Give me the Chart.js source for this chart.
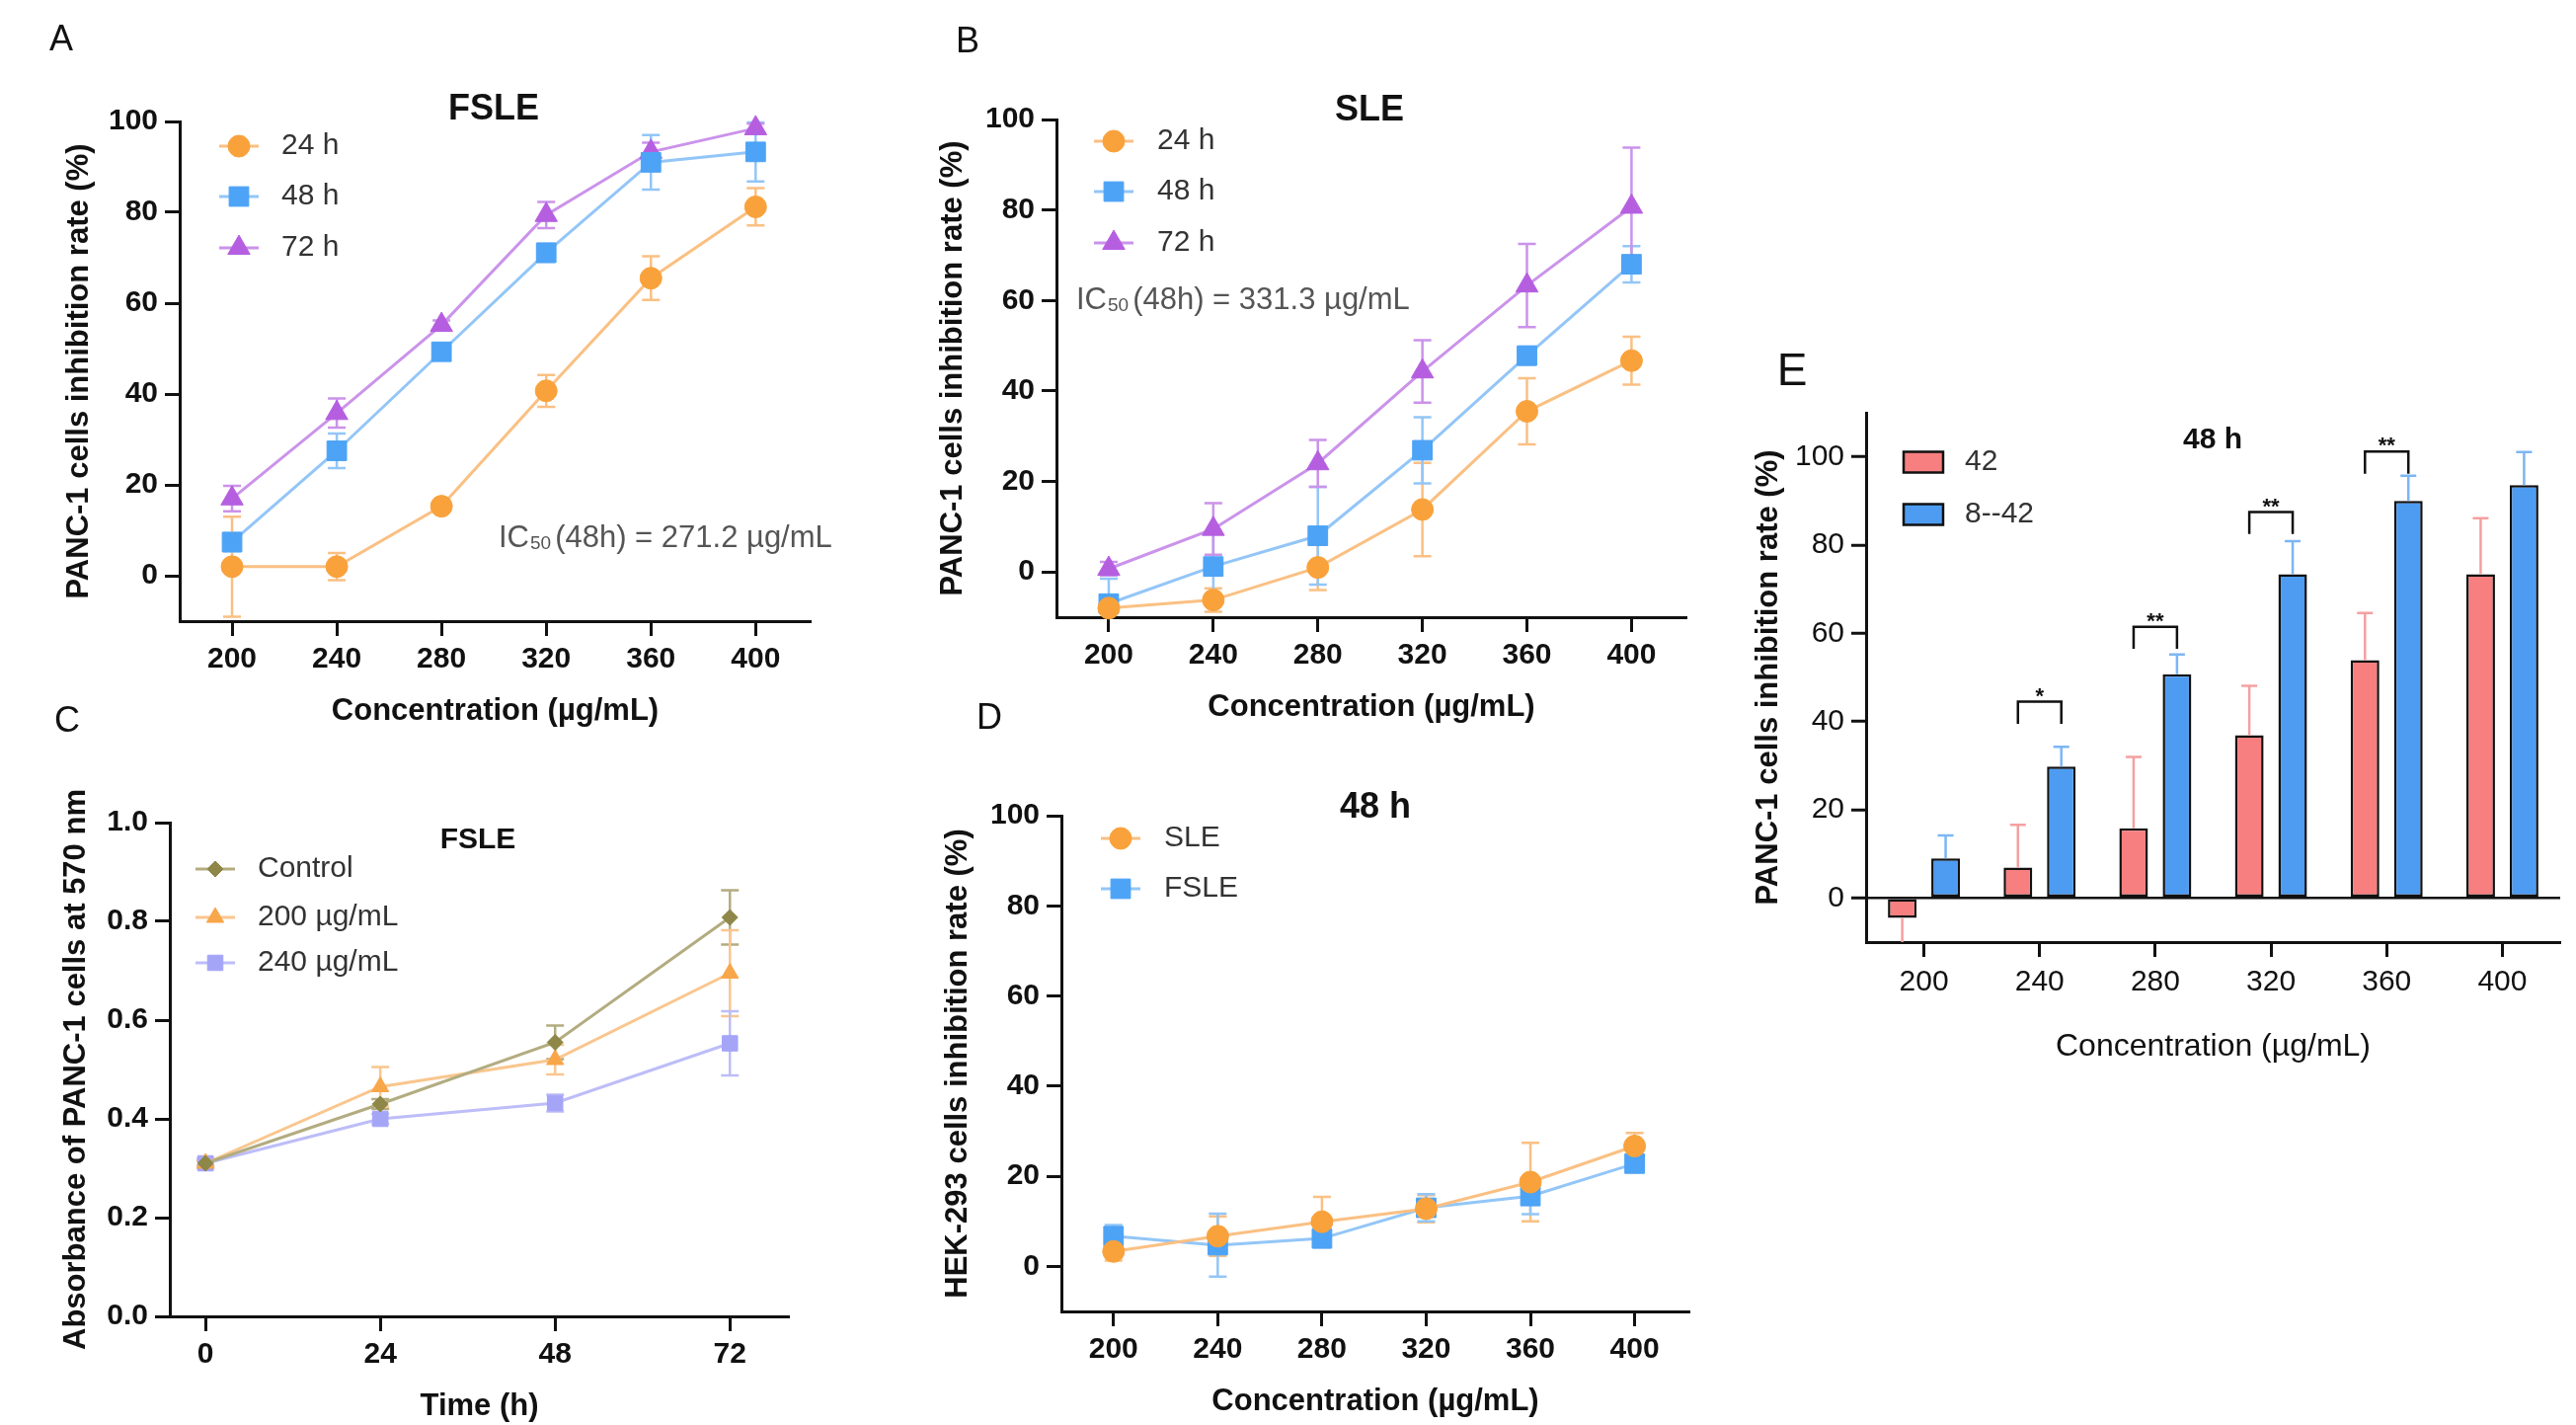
<!DOCTYPE html>
<html><head><meta charset="utf-8">
<script src="https://cdn.jsdelivr.net/npm/chart.js@4.4.1/dist/chart.umd.min.js"></script>
<style>
html,body{margin:0;padding:0;background:#fff;}
#wrap{position:relative;width:2609px;height:1443px;overflow:hidden;background:#fff;}
canvas{position:absolute;}
</style></head><body><div id="wrap">
<canvas id="cA"></canvas><canvas id="cB"></canvas><canvas id="cC"></canvas><canvas id="cD"></canvas><canvas id="cE"></canvas>
</div>
<script>
const FONT = '"Liberation Sans", Arial, Helvetica, sans-serif';

// ---------- data ----------
const concX = [200, 240, 280, 320, 360, 400];
const concTicks = [200, 240, 280, 320, 360, 400];
const concTickLabels = ['200', '240', '280', '320', '360', '400'];
const pctTicks = [0, 20, 40, 60, 80, 100];
const pctTickLabels = ['0', '20', '40', '60', '80', '100'];

// A: FSLE, PANC-1 inhibition (%)
const a24 = [2.0, 2.0, 15.3, 40.7, 65.5, 81.2];
const a24Err = [11.0, 3.0, 1.0, 3.5, 4.8, 4.1];
const a48 = [7.4, 27.5, 49.3, 71.1, 91.0, 93.3];
const a48Err = [2.0, 3.8, 1.5, 2.0, 6.0, 6.5];
const a72 = [17.0, 35.8, 55.2, 79.4, 93.3, 98.5];
const a72Err = [2.8, 3.2, 1.0, 2.9, 2.0, 1.0];

// B: SLE, PANC-1 inhibition (%)
const b24 = [-8.0, -6.2, 1.0, 13.8, 35.5, 46.7];
const b24Err = [1.0, 2.6, 5.0, 10.3, 7.3, 5.3];
const b48 = [-7.0, 1.2, 8.0, 26.9, 47.8, 68.0];
const b48Err = [5.5, 7.5, 10.8, 7.3, 2.0, 4.0];
const b72 = [0.7, 9.5, 24.0, 44.3, 63.3, 80.7];
const b72Err = [1.5, 5.7, 5.2, 6.9, 9.2, 13.1];

// C: FSLE, absorbance at 570 nm vs time
const timeX = [0, 24, 48, 72];
const timeTicks = [0, 24, 48, 72];
const timeTickLabels = ['0', '24', '48', '72'];
const absTicks = [0, 0.2, 0.4, 0.6, 0.8, 1.0];
const absTickLabels = ['0.0', '0.2', '0.4', '0.6', '0.8', '1.0'];
const cCtrl = [0.31, 0.43, 0.555, 0.808];
const cCtrlErr = [0.005, 0.01, 0.034, 0.055];
const c200 = [0.31, 0.465, 0.52, 0.695];
const c200Err = [0.005, 0.04, 0.03, 0.087];
const c240 = [0.31, 0.40, 0.432, 0.553];
const c240Err = [0.01, 0.01, 0.017, 0.065];

// D: HEK-293 inhibition (%) 48 h
const dSLE = [3.3, 6.7, 9.9, 12.8, 18.7, 26.7];
const dSLEErr = [2.0, 4.4, 5.5, 3.0, 8.7, 2.9];
const dFSLE = [6.7, 4.7, 6.2, 13.0, 15.6, 22.8];
const dFSLEErr = [2.5, 7.0, 2.0, 3.0, 4.0, 1.5];

// E: bars 48 h
const catsE = ['200', '240', '280', '320', '360', '400'];
const e42 = [-4.5, 6.9, 15.8, 36.9, 53.9, 73.4];
const e42Err = [8.0, 9.7, 16.2, 11.2, 10.7, 12.7];
const e842 = [9.0, 29.8, 50.7, 73.4, 90.0, 93.6];
const e842Err = [5.2, 4.5, 4.5, 7.5, 5.7, 7.5];
const sigIdx = [1, 2, 3, 4];
const sigTop = [44.5, 61.5, 87.5, 101.2];
const sigLabels = ['*', '**', '**', '**'];

// ---------- colours ----------
const C = {
  orM: '#F9A23C', orL: '#FAC083',
  blM: '#4DA3F5', blL: '#93C6F7',
  puM: '#B55FE0', puL: '#CB93EA',
  olM: '#8E8748', olL: '#B3AC80',
  o2M: '#F8A64A', o2L: '#F9C68E',
  lvM: '#A5A5F8', lvL: '#BDBDF8',
  eRed: '#F77F7F', eBlue: '#4D9CF2', eRedL: '#F5A0A0', eBlueL: '#7CB6F4'
};

Chart.defaults.font.family = FONT;
Chart.defaults.color = '#111';

// ---------- plugins ----------
function drawErr(chart, behind) {
  const ctx = chart.ctx, ys = chart.scales.y, a = chart.chartArea;
  chart.data.datasets.forEach((ds, i) => {
    if (!ds.errors || (!!ds.errBehind) !== behind) return;
    const meta = chart.getDatasetMeta(i);
    ctx.save();
    ctx.beginPath();
    ctx.rect(a.left - 30, a.top - 60, a.right - a.left + 60, a.bottom - a.top + 60);
    ctx.clip();
    ctx.strokeStyle = ds.errColor;
    ctx.lineWidth = ds.errWidth || 2.5;
    const hw = ds.capHalf || 8;
    meta.data.forEach((el, j) => {
      const raw = ds.data[j];
      const val = (raw !== null && typeof raw === 'object') ? raw.y : raw;
      const e = ds.errors[j];
      const x = el.x;
      ctx.beginPath();
      if (ds.errMode === 'away') {
        const end = ys.getPixelForValue(val + (val < 0 ? -e : e));
        const st = ys.getPixelForValue(val);
        ctx.moveTo(x, st); ctx.lineTo(x, end);
        ctx.moveTo(x - hw, end); ctx.lineTo(x + hw, end);
      } else {
        const p1 = ys.getPixelForValue(val - e), p2 = ys.getPixelForValue(val + e);
        ctx.moveTo(x, p1); ctx.lineTo(x, p2);
        ctx.moveTo(x - hw, p1); ctx.lineTo(x + hw, p1);
        ctx.moveTo(x - hw, p2); ctx.lineTo(x + hw, p2);
      }
      ctx.stroke();
    });
    ctx.restore();
  });
}
const errorBars = {
  id: 'errorBars',
  beforeDatasetsDraw(chart) { drawErr(chart, true); },
  afterDatasetsDraw(chart) { drawErr(chart, false); }
};

const DECO = {};
const decoPlugin = {
  id: 'deco',
  afterDraw(chart) {
    const o = DECO[chart.canvas.id];
    if (!o) return;
    const ctx = chart.ctx;
    ctx.save();
    ctx.translate(-o.ox, -o.oy);
    // panel letter
    ctx.fillStyle = '#111';
    ctx.textAlign = 'center'; ctx.textBaseline = 'middle';
    ctx.font = `${o.letter.size}px ${FONT}`;
    ctx.fillText(o.letter.text, o.letter.x, o.letter.y);
    // title
    ctx.font = `bold ${o.title.size}px ${FONT}`;
    ctx.fillText(o.title.text, o.title.x, o.title.y);
    // legend
    o.legend.forEach(it => {
      if (it.kind === 'line') {
        ctx.strokeStyle = it.lineColor; ctx.lineWidth = 3;
        ctx.beginPath(); ctx.moveTo(it.x - 20, it.y); ctx.lineTo(it.x + 20, it.y); ctx.stroke();
        ctx.fillStyle = it.color; ctx.strokeStyle = it.color; ctx.lineWidth = 1;
        Chart.helpers.drawPoint(ctx, {pointStyle: it.style, radius: it.r, rotation: 0, borderWidth: 1}, it.x, it.y);
      } else {
        ctx.fillStyle = it.color;
        ctx.fillRect(it.x1, it.y - it.h / 2, it.x2 - it.x1, it.h);
        ctx.strokeStyle = '#111'; ctx.lineWidth = 2.5;
        ctx.strokeRect(it.x1, it.y - it.h / 2, it.x2 - it.x1, it.h);
      }
      ctx.fillStyle = '#333';
      ctx.font = `30px ${FONT}`;
      ctx.textAlign = 'left'; ctx.textBaseline = 'middle';
      ctx.fillText(it.text, it.tx, it.y);
    });
    // IC50 annotation
    if (o.ic50) {
      const t = o.ic50;
      ctx.fillStyle = '#555';
      ctx.textAlign = 'left'; ctx.textBaseline = 'alphabetic';
      const base = t.y + 11;
      let x = t.x;
      ctx.font = `31px ${FONT}`;
      ctx.fillText('IC', x, base); x += ctx.measureText('IC').width + 1;
      ctx.font = `19px ${FONT}`;
      ctx.fillText('50', x, base + 2); x += ctx.measureText('50').width + 4;
      ctx.font = `31px ${FONT}`;
      ctx.fillText(t.rest, x, base);
    }
    // significance brackets
    if (o.sig) {
      const m0 = chart.getDatasetMeta(0), m1 = chart.getDatasetMeta(1), ys = chart.scales.y;
      ctx.translate(o.ox, o.oy);
      ctx.strokeStyle = '#111'; ctx.lineWidth = 2.5; ctx.fillStyle = '#111';
      sigIdx.forEach((idx, k) => {
        const x1 = m0.data[idx].x, x2 = m1.data[idx].x;
        const yt = ys.getPixelForValue(sigTop[k]);
        const yl = ys.getPixelForValue(sigTop[k] - 5);
        ctx.beginPath();
        ctx.moveTo(x1, yl); ctx.lineTo(x1, yt); ctx.lineTo(x2, yt); ctx.lineTo(x2, yl);
        ctx.stroke();
        ctx.font = `bold 22px ${FONT}`;
        ctx.textAlign = 'center'; ctx.textBaseline = 'alphabetic';
        ctx.fillText(sigLabels[k], (x1 + x2) / 2, yt + 1);
      });
    }
    ctx.restore();
  }
};

// ---------- helpers ----------
function frame(rect, area, yTitleX, xTitleY, ySize, xSize) {
  const lhY = ySize * 1.2, lhX = xSize * 1.2;
  const padLeft = yTitleX - lhY / 2 - rect.x;
  const yW = area.L - rect.x - padLeft;
  const xH = xTitleY + lhX / 2 - area.B;
  return {
    padding: {left: padLeft, top: area.T - rect.y, right: rect.x + rect.w - area.R, bottom: rect.y + rect.h - area.B - xH},
    yW, xH
  };
}
function setupCanvas(id, rect) {
  const cv = document.getElementById(id);
  cv.width = rect.w; cv.height = rect.h;
  cv.style.left = rect.x + 'px'; cv.style.top = rect.y + 'px';
  cv.style.width = rect.w + 'px'; cv.style.height = rect.h + 'px';
  return cv;
}
function linScale(axis, min, max, ticks, labels, fitSize, titleText, titleFont, tickFont, tickPad) {
  return {
    type: 'linear', min, max, bounds: 'data',
    afterBuildTicks: s => { s.ticks = ticks.map(v => ({value: v})); },
    afterFit: s => { if (axis === 'x') s.height = fitSize; else s.width = fitSize; },
    ticks: {autoSkip: false, padding: tickPad, color: '#111', font: tickFont, maxRotation: 0, callback: (v, i) => labels[i]},
    grid: {drawOnChartArea: false, drawTicks: true, tickLength: 15, tickWidth: 3, tickColor: '#111'},
    border: {display: true, color: '#111', width: 3},
    title: {display: true, text: titleText, color: '#111', font: titleFont, padding: 0}
  };
}
function lineDs(label, xs, ys, errs, marker, line, style, r) {
  return {
    label, data: xs.map((x, i) => ({x, y: ys[i]})),
    borderColor: line, backgroundColor: marker, borderWidth: 3, tension: 0,
    pointStyle: style, pointRadius: r, pointBackgroundColor: marker, pointBorderColor: marker, pointBorderWidth: 1,
    clip: false, errors: errs, errColor: line, errBehind: true, errWidth: 2.5, capHalf: 9
  };
}
const tickBold = {size: 30, weight: 'bold'};
const titleBold = {size: 31, weight: 'bold'};

function lineChart(id, rect, area, yTitleX, xTitleY, xMin, xMax, xTicks, xLabels, yMin, yMax, yTicks, yLabels, xTitle, yTitle, datasets) {
  const f = frame(rect, area, yTitleX, xTitleY, 31, 31);
  const cv = setupCanvas(id, rect);
  return new Chart(cv, {
    type: 'line',
    data: {datasets},
    options: {
      responsive: false, animation: false, devicePixelRatio: 1,
      layout: {padding: f.padding},
      plugins: {legend: {display: false}, tooltip: {enabled: false}, title: {display: false}},
      scales: {
        x: linScale('x', xMin, xMax, xTicks, xLabels, f.xH, xTitle, titleBold, tickBold, 6),
        y: linScale('y', yMin, yMax, yTicks, yLabels, f.yW, yTitle, titleBold, tickBold, 7)
      }
    },
    plugins: [errorBars, decoPlugin]
  });
}

const ML = 'Concentration (\u00b5g/mL)';

// ---------- Panel A ----------
const rA = {x: 0, y: 0, w: 900, h: 760};
DECO.cA = {ox: rA.x, oy: rA.y,
  letter: {text: 'A', x: 62, y: 41, size: 36},
  title: {text: 'FSLE', x: 500, y: 111, size: 36},
  legend: [
    {kind: 'line', x: 242, y: 148, tx: 285, text: '24 h', color: C.orM, lineColor: C.orL, style: 'circle', r: 11},
    {kind: 'line', x: 242, y: 199, tx: 285, text: '48 h', color: C.blM, lineColor: C.blL, style: 'rect', r: 14},
    {kind: 'line', x: 242, y: 251, tx: 285, text: '72 h', color: C.puM, lineColor: C.puL, style: 'triangle', r: 13}
  ],
  ic50: {x: 505, y: 543, rest: '(48h) = 271.2 \u00b5g/mL'}
};
lineChart('cA', rA, {L: 182, T: 123, R: 821, B: 629}, 80, 720, 180, 421, concTicks, concTickLabels, -10, 100, pctTicks, pctTickLabels,
  ML, 'PANC-1 cells inhibition rate (%)', [
    lineDs('24 h', concX, a24, a24Err, C.orM, C.orL, 'circle', 11),
    lineDs('48 h', concX, a48, a48Err, C.blM, C.blL, 'rect', 14),
    lineDs('72 h', concX, a72, a72Err, C.puM, C.puL, 'triangle', 13)
  ]);

// ---------- Panel B ----------
const rB = {x: 900, y: 0, w: 860, h: 760};
DECO.cB = {ox: rB.x, oy: rB.y,
  letter: {text: 'B', x: 980, y: 43, size: 36},
  title: {text: 'SLE', x: 1387, y: 112, size: 36},
  legend: [
    {kind: 'line', x: 1128, y: 143, tx: 1172, text: '24 h', color: C.orM, lineColor: C.orL, style: 'circle', r: 11},
    {kind: 'line', x: 1128, y: 194, tx: 1172, text: '48 h', color: C.blM, lineColor: C.blL, style: 'rect', r: 14},
    {kind: 'line', x: 1128, y: 246, tx: 1172, text: '72 h', color: C.puM, lineColor: C.puL, style: 'triangle', r: 13}
  ],
  ic50: {x: 1090, y: 302, rest: '(48h) = 331.3 \u00b5g/mL'}
};
lineChart('cB', rB, {L: 1070, T: 121, R: 1708, B: 625}, 965, 716, 180, 421, concTicks, concTickLabels, -10, 100, pctTicks, pctTickLabels,
  ML, 'PANC-1 cells inhibition rate (%)', [
    lineDs('24 h', concX, b24, b24Err, C.orM, C.orL, 'circle', 11),
    lineDs('48 h', concX, b48, b48Err, C.blM, C.blL, 'rect', 14),
    lineDs('72 h', concX, b72, b72Err, C.puM, C.puL, 'triangle', 13)
  ]);

// ---------- Panel C ----------
const rC = {x: 0, y: 700, w: 900, h: 743};
DECO.cC = {ox: rC.x, oy: rC.y,
  letter: {text: 'C', x: 68, y: 731, size: 36},
  title: {text: 'FSLE', x: 484, y: 851, size: 30},
  legend: [
    {kind: 'line', x: 218, y: 880, tx: 261, text: 'Control', color: C.olM, lineColor: C.olL, style: 'rectRot', r: 8},
    {kind: 'line', x: 218, y: 929, tx: 261, text: '200 \u00b5g/mL', color: C.o2M, lineColor: C.o2L, style: 'triangle', r: 10},
    {kind: 'line', x: 218, y: 975, tx: 261, text: '240 \u00b5g/mL', color: C.lvM, lineColor: C.lvL, style: 'rect', r: 11}
  ]
};
lineChart('cC', rC, {L: 172, T: 833, R: 799, B: 1333}, 77, 1424, -4.9, 80.1, timeTicks, timeTickLabels, 0, 1.0, absTicks, absTickLabels,
  'Time (h)', 'Absorbance of PANC-1 cells at 570 nm', [
    lineDs('Control', timeX, cCtrl, cCtrlErr, C.olM, C.olL, 'rectRot', 8),
    lineDs('200 \u00b5g/mL', timeX, c200, c200Err, C.o2M, C.o2L, 'triangle', 10),
    lineDs('240 \u00b5g/mL', timeX, c240, c240Err, C.lvM, C.lvL, 'rect', 11)
  ]);

// ---------- Panel D ----------
const rD = {x: 900, y: 700, w: 860, h: 743};
DECO.cD = {ox: rD.x, oy: rD.y,
  letter: {text: 'D', x: 1002, y: 728, size: 36},
  title: {text: '48 h', x: 1393, y: 818, size: 36},
  legend: [
    {kind: 'line', x: 1135, y: 849, tx: 1179, text: 'SLE', color: C.orM, lineColor: C.orL, style: 'circle', r: 11},
    {kind: 'line', x: 1135, y: 900, tx: 1179, text: 'FSLE', color: C.blM, lineColor: C.blL, style: 'rect', r: 14}
  ]
};
lineChart('cD', rD, {L: 1075, T: 826, R: 1711, B: 1328}, 970, 1419, 180, 421, concTicks, concTickLabels, -10, 100, pctTicks, pctTickLabels,
  ML, 'HEK-293 cells inhibition rate (%)', [
    lineDs('SLE', concX, dSLE, dSLEErr, C.orM, C.orL, 'circle', 11),
    lineDs('FSLE', concX, dFSLE, dFSLEErr, C.blM, C.blL, 'rect', 14)
  ]);

// ---------- Panel E ----------
const rE = {x: 1760, y: 330, w: 849, h: 780};
const aE = {L: 1890, T: 418, R: 2593, B: 954};
const fE = frame(rE, aE, 1791, 1060, 31, 32);
DECO.cE = {ox: rE.x, oy: rE.y,
  letter: {text: 'E', x: 1815, y: 377, size: 46},
  title: {text: '48 h', x: 2241, y: 446, size: 30},
  legend: [
    {kind: 'box', x1: 1928, x2: 1968, y: 468, h: 21, tx: 1990, text: '42', color: C.eRed},
    {kind: 'box', x1: 1928, x2: 1968, y: 521, h: 21, tx: 1990, text: '8--42', color: C.eBlue}
  ],
  sig: true
};
setupCanvas('cE', rE);
new Chart(document.getElementById('cE'), {
  type: 'bar',
  data: {
    labels: catsE,
    datasets: [
      {label: '42', data: e42, backgroundColor: C.eRed, borderColor: '#111', borderWidth: 2.5, borderSkipped: false,
       categoryPercentage: 0.75, barPercentage: 0.66, errors: e42Err, errColor: C.eRedL, errMode: 'away', errBehind: false, errWidth: 2.5, capHalf: 8},
      {label: '8--42', data: e842, backgroundColor: C.eBlue, borderColor: '#111', borderWidth: 2.5, borderSkipped: false,
       categoryPercentage: 0.75, barPercentage: 0.66, errors: e842Err, errColor: C.eBlueL, errMode: 'away', errBehind: false, errWidth: 2.5, capHalf: 8}
    ]
  },
  options: {
    responsive: false, animation: false, devicePixelRatio: 1,
    layout: {padding: fE.padding},
    plugins: {legend: {display: false}, tooltip: {enabled: false}, title: {display: false}},
    scales: {
      x: {
        type: 'category', offset: true,
        afterFit: s => { s.height = fE.xH; },
        ticks: {autoSkip: false, padding: 8, color: '#111', font: {size: 30, weight: 'normal'}, maxRotation: 0},
        grid: {offset: false, drawOnChartArea: false, drawTicks: true, tickLength: 15, tickWidth: 3, tickColor: '#111'},
        border: {display: true, color: '#111', width: 3},
        title: {display: true, text: ML, color: '#111', font: {size: 32, weight: 'normal'}, padding: 0}
      },
      y: {
        type: 'linear', min: -10, max: 110, bounds: 'data',
        afterBuildTicks: s => { s.ticks = pctTicks.map(v => ({value: v})); },
        afterFit: s => { s.width = fE.yW; },
        ticks: {autoSkip: false, padding: 7, color: '#111', font: {size: 30, weight: 'normal'}, callback: (v, i) => pctTickLabels[i]},
        grid: {drawOnChartArea: true, drawTicks: true, tickLength: 15, tickWidth: 3, tickColor: '#111', lineWidth: 2.5,
               color: c => (c.tick && c.tick.value === 0) ? '#111' : 'rgba(0,0,0,0)'},
        border: {display: true, color: '#111', width: 3},
        title: {display: true, text: 'PANC-1 cells inhibition rate (%)', color: '#111', font: {size: 31, weight: 'bold'}, padding: 0}
      }
    }
  },
  plugins: [errorBars, decoPlugin]
});
</script>
</body></html>
